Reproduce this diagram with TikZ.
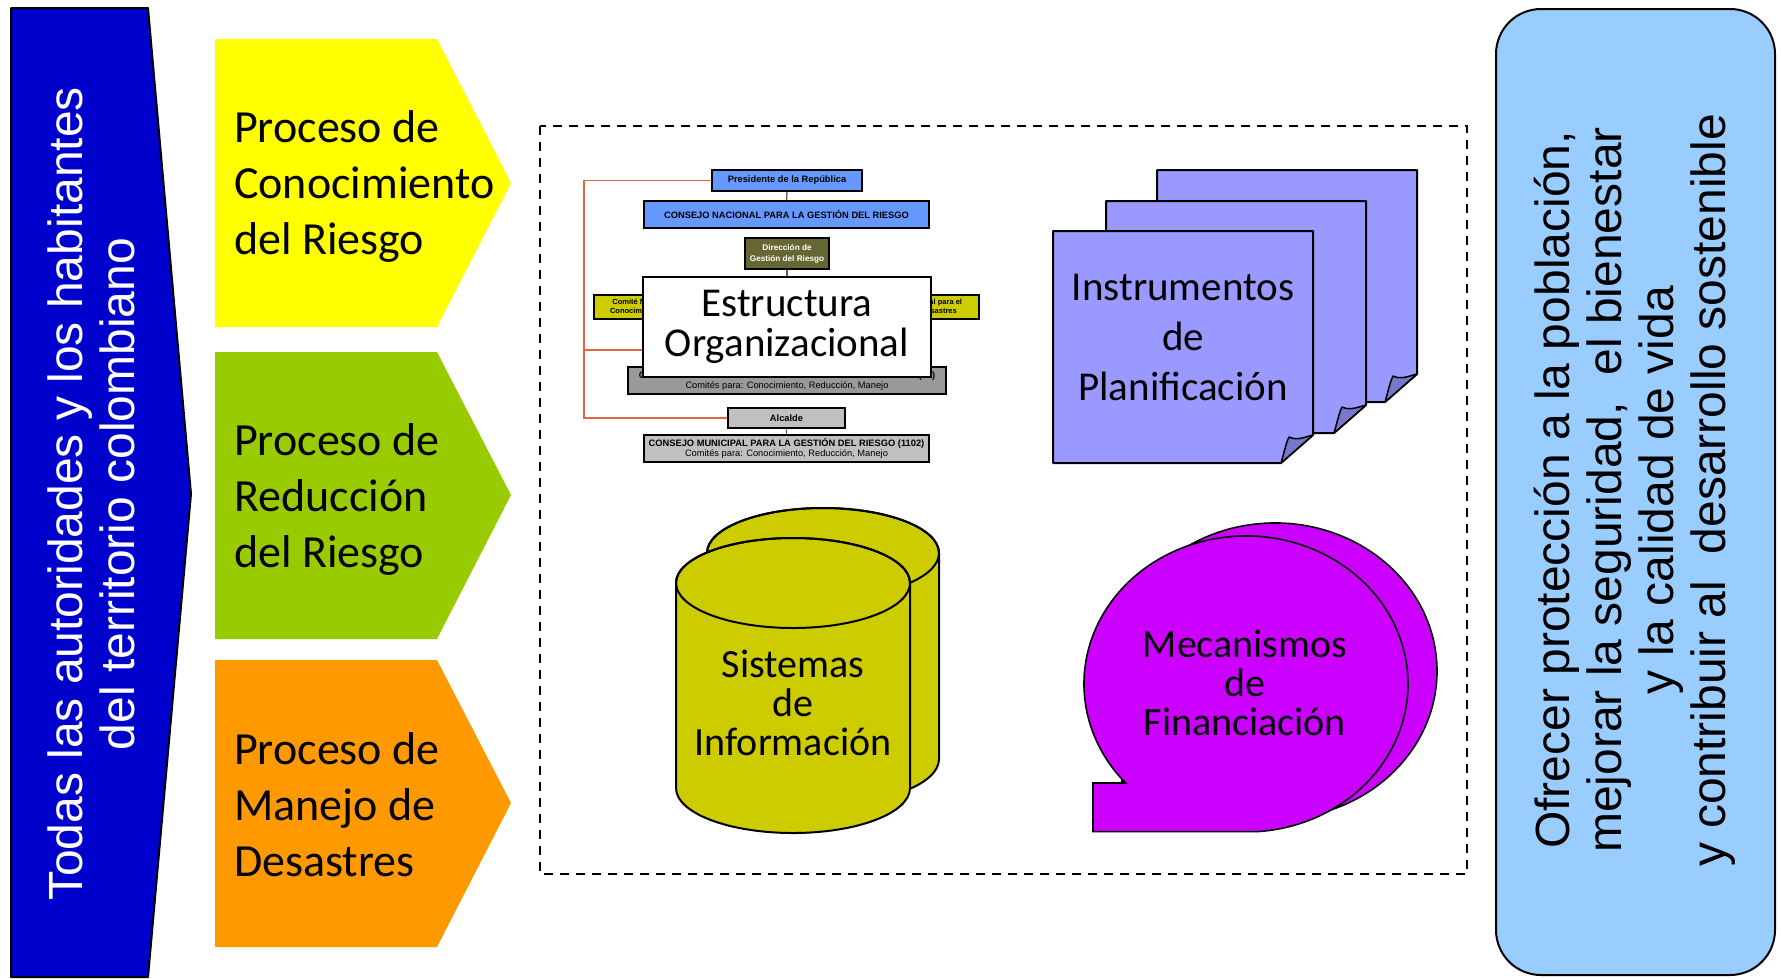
\documentclass[tikz,border=0pt]{standalone}
\usepackage{fontspec}
\setmainfont{Carlito}
\newfontfamily\sidefont{Liberation Sans}
\newfontfamily\orgfont{Liberation Sans}
\usetikzlibrary{calc}

\definecolor{leftblue}{RGB}{0,0,204}
\definecolor{goalblue}{RGB}{153,204,255}
\definecolor{procyellow}{RGB}{255,255,0}
\definecolor{procgreen}{RGB}{153,204,0}
\definecolor{procorange}{RGB}{255,153,0}
\definecolor{pagefill}{RGB}{153,153,255}
\definecolor{pagefold}{RGB}{119,119,204}
\definecolor{cylfill}{RGB}{204,204,0}
\definecolor{bubblefill}{RGB}{204,0,255}
\definecolor{orgblue}{RGB}{102,153,255}
\definecolor{orgolive}{RGB}{102,102,51}
\definecolor{orgyellow}{RGB}{204,204,0}
\definecolor{orggray}{RGB}{153,153,153}
\definecolor{orglight}{RGB}{192,192,192}
\definecolor{orgorange}{RGB}{224,102,64}

\tikzset{
  proctext/.style={anchor=west, align=left, inner sep=0pt, font=\fontsize{46}{56}\selectfont},
  shapetext/.style={align=center, inner sep=0pt, font=\fontsize{40}{39}\selectfont},
  sidetext/.style={rotate=90, align=center, inner sep=0pt, font=\sidefont\fontsize{48}{52}\selectfont},
  orgbox/.style={draw=black, line width=1.2pt, inner sep=0pt, align=center, font=\orgfont\bfseries\fontsize{9.3}{10}\selectfont},
  orgline/.style={draw=black!65, line width=1.3pt},
  orangeline/.style={draw=orgorange, line width=1.5pt},
  outline/.style={draw=black, line width=2pt, line join=round},
}

\newcommand\planpage[2]{%
  \begin{scope}[shift={(#1,#2)}]
    \filldraw[outline, fill=pagefill] (0,0) -- (260,0) -- (260,204) -- (228,232) -- (0,232) -- cycle;
    \filldraw[outline, fill=pagefold, line width=1.5pt] (228,232) .. controls (231,222) and (233,212) .. (236,206) .. controls (244,210) and (252,206) .. (260,204) -- cycle;
  \end{scope}}

\newcommand\infocyl[5]{%
  \filldraw[outline, fill=cylfill] (#1-#4,#2) -- (#1-#4,#3) arc[start angle=180, end angle=0, x radius=#4, y radius=#5] -- (#1+#4,#2) arc[start angle=0, end angle=-180, x radius=#4, y radius=#5] -- cycle;
  \draw[outline] (#1,#2) ellipse[x radius=#4, y radius=#5];}

\begin{document}
\begin{tikzpicture}[x=1pt,y=-1pt]
\useasboundingbox (0,0) rectangle (1781,978);

% left pentagon
\filldraw[outline, fill=leftblue] (11,8) -- (148,8) -- (191,494) -- (148,977) -- (11,977) -- cycle;
\node[sidetext, text=white] (who) at (91,494) {Todas las autoridades y los habitantes\\del territorio colombiano};

% process chevrons
\fill[procyellow] (215,39) -- (437,39) -- (511,183) -- (437,327) -- (215,327) -- cycle;
\node[proctext] (p1) at (234,186.5) {Proceso de\\Conocimiento\\del Riesgo};
\fill[procgreen] (215,352) -- (437,352) -- (511,495) -- (437,639) -- (215,639) -- cycle;
\node[proctext] (p2) at (234,499) {Proceso de\\Reducción\\del Riesgo};
\fill[procorange] (215,660) -- (437,660) -- (511,803) -- (437,947) -- (215,947) -- cycle;
\node[proctext] (p3) at (234,805) {Proceso de\\Manejo de\\Desastres};

% dashed frame
\draw[line width=2pt, dash pattern=on 9pt off 7pt] (540,126) rectangle (1467,874);

% org chart
\coordinate (trunk) at (584,0);
\coordinate (gob) at (700,350);
\node[orgbox, fill=orgblue, minimum width=150pt, minimum height=21pt] (pres) at (787,180.5) {Presidente de la República};
\node[orgbox, fill=orgblue, minimum width=285pt, minimum height=27pt] (nac) at (786.5,214.5) {CONSEJO NACIONAL PARA LA GESTIÓN DEL RIESGO};
\node[orgbox, fill=orgolive, text=white, minimum width=84pt, minimum height=31pt, font=\orgfont\bfseries\fontsize{8.2}{11}\selectfont] (dir) at (787,253.5) {Dirección de\\Gestión del Riesgo};
\node[orgbox, fill=orgyellow, minimum width=122pt, minimum height=24pt, font=\orgfont\bfseries\fontsize{7.5}{9}\selectfont] (com1) at (655,307) {Comité Nacional para el\\Conocimiento del Riesgo};
\node[orgbox, fill=orgyellow, minimum width=119pt, minimum height=24pt, font=\orgfont\bfseries\fontsize{7.5}{9}\selectfont] (com3) at (919.5,307) {Comité Nacional para el\\Manejo de Desastres};
\node[orgbox, fill=orggray, minimum width=318pt, minimum height=27pt] (dept) at (787,380.5) {CONSEJO DEPARTAMENTAL PARA LA GESTIÓN DEL RIESGO (32)\\{\mdseries Comités para: Conocimiento, Reducción, Manejo}};
\node[orgbox, fill=orglight, minimum width=117pt, minimum height=20pt] (alc) at (786.5,418) {Alcalde};
\node[orgbox, fill=orglight, minimum width=285pt, minimum height=27pt] (mun) at (786.5,448.5) {CONSEJO MUNICIPAL PARA LA GESTIÓN DEL RIESGO (1102)\\{\mdseries Comités para: Conocimiento, Reducción, Manejo}};
\draw[orangeline] (pres.west) -| (trunk |- alc.west) -- (alc.west);
\draw[orangeline] (trunk |- gob) -- (gob);
\draw[orgline] (pres.south) -- (nac.north);
\draw[orgline] (alc.south) -- (mun.north);
\node[draw=black, line width=2pt, fill=white, minimum width=288pt, minimum height=100pt, inner sep=0pt, align=center, font=\fontsize{41}{40}\selectfont] (est) at (787,327) {\raisebox{-2pt}{Estructura}\\\raisebox{-2pt}{Organizacional}};
\draw[orgline] (dir.south) -- (est.north);

% planning instruments
\planpage{1157}{170}
\planpage{1106}{201}
\planpage{1053}{231}
\node[align=center, inner sep=0pt, font=\fontsize{41}{50}\selectfont] (inst) at (1183,337.5) {Instrumentos\\de\\Planificación};

% information systems
\infocyl{823}{553}{759}{116}{45}
\infocyl{793}{583}{788}{117}{45}
\node[shapetext] (sis) at (793,703) {Sistemas\\de\\Información};

% financing mechanisms
\begin{scope}[shift={(29,-13)}]
  \filldraw[draw=black, line width=1.6pt, fill=bubblefill] (1257.3,831.6) arc[start angle=86, end angle=-222, x radius=162, y radius=148] -- (1093,783) -- (1093,831.6) -- cycle;
\end{scope}
\filldraw[draw=black, line width=1.6pt, fill=bubblefill] (1257.3,831.6) arc[start angle=86, end angle=-222, x radius=162, y radius=148] -- (1093,783) -- (1093,831.6) -- cycle;
\node[shapetext] (mec) at (1245,683) {Mecanismos\\de\\Financiación};

% goal box
\filldraw[outline, fill=goalblue, rounded corners=45pt] (1496,9) rectangle (1775,975);
\node[sidetext] (goal) at (1635,490) {Ofrecer protección a la población,\\mejorar la seguridad,\ \ el bienestar\\y la calidad de vida\\y contribuir al\ \ desarrollo sostenible};
\end{tikzpicture}
\end{document}
